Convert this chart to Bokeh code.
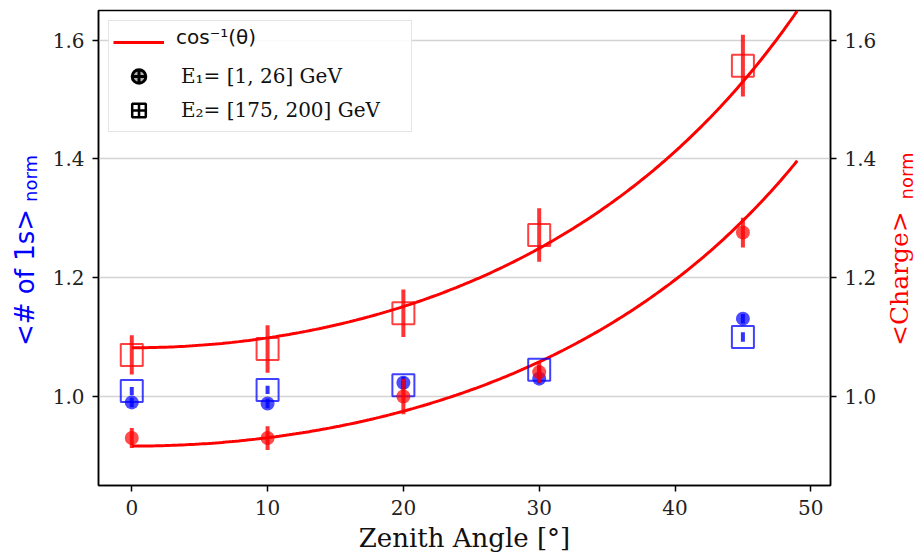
import numpy as np
from bokeh.plotting import figure
from bokeh.layouts import row
from bokeh.models import (Range1d, LinearAxis, FixedTicker, Legend, LegendItem,
                          NumeralTickFormatter, ColumnDataSource)
from bokeh.core.properties import value
from bokeh.embed import file_html
from bokeh.resources import INLINE

# ---- data ----
angles = [0, 10, 20, 30, 45]
ones_e1 = [0.990, 0.988, 1.023, 1.030, 1.131]
ones_e1_err = [0.008, 0.008, 0.010, 0.008, 0.008]
ones_e2 = [1.009, 1.011, 1.019, 1.045, 1.100]
ones_e2_err = [0.007, 0.007, 0.007, 0.007, 0.008]
charge_e1 = [0.930, 0.930, 1.000, 1.041, 1.276]
charge_e1_err = [0.017, 0.020, 0.030, 0.018, 0.025]
charge_e2 = [1.070, 1.080, 1.140, 1.272, 1.557]
charge_e2_err = [0.033, 0.040, 0.040, 0.045, 0.052]
fit_norm_e1 = 0.9164
fit_norm_e2 = 1.082
fit_max_angle = 49
x_ticks = [0, 10, 20, 30, 40, 50]
y_ticks = [1.0, 1.2, 1.4, 1.6]

left_title = "<# of 1s>"
right_title = "<Charge>"
title_sub = "norm"
fit_label = "cos⁻¹(θ)"
e1_label = "E₁= [1, 26] GeV"
e2_label = "E₂= [175, 200] GeV"

RED = "#ff0000"
BLUE = "#0000ff"
H = 557
FRAME_TOP = 10
FRAME_BOTTOM = 485

p = figure(width=836, height=H,
           x_range=Range1d(-2.45, 51.45), y_range=Range1d(0.85, 1.65),
           output_backend="svg", toolbar_location=None,
           min_border_left=52, min_border_right=52,
           min_border_top=FRAME_TOP, min_border_bottom=H - FRAME_BOTTOM)
p.background_fill_color = "white"
p.border_fill_color = "white"
p.outline_line_color = "black"
p.outline_line_width = 1.5
p.xgrid.visible = False
p.ygrid.grid_line_color = "#d3d3d3"
p.ygrid.grid_line_width = 1.3
p.ygrid.ticker = FixedTicker(ticks=y_ticks)

right_axis = LinearAxis()
p.add_layout(right_axis, "right")

for ax in [p.xaxis[0], p.yaxis[0], right_axis]:
    ax.axis_line_width = 1.5
    ax.axis_line_color = "black"
    ax.major_tick_line_width = 1.5
    ax.major_tick_out = 6
    ax.major_tick_in = 0
    ax.minor_tick_out = 0
    ax.minor_tick_in = 0
    ax.major_label_text_font = "DejaVu Serif"
    ax.major_label_text_font_size = "20px"
    ax.major_label_text_color = "#222222"
    ax.major_label_standoff = 8

p.xaxis.ticker = FixedTicker(ticks=x_ticks)
p.yaxis[0].ticker = FixedTicker(ticks=y_ticks)
right_axis.ticker = FixedTicker(ticks=y_ticks)
p.yaxis[0].formatter = NumeralTickFormatter(format="0.0")
right_axis.formatter = NumeralTickFormatter(format="0.0")
p.xaxis.formatter = NumeralTickFormatter(format="0")

p.xaxis.axis_label = "Zenith Angle [°]"
p.xaxis.axis_label_text_font = "DejaVu Serif"
p.xaxis.axis_label_text_font_size = "26px"
p.xaxis.axis_label_text_font_style = "normal"
p.xaxis.axis_label_text_color = "#111111"
p.xaxis.axis_label_standoff = 5

# ---- fit curves ----
theta = np.linspace(0, fit_max_angle, 200)
fit_hi = fit_norm_e2 / np.cos(np.radians(theta))
fit_lo = fit_norm_e1 / np.cos(np.radians(theta))
fit_r = p.line(theta, fit_hi, line_color=RED, line_width=3)
p.line(theta, fit_lo, line_color=RED, line_width=3)

# ---- error bars and markers ----
def err_src(xs, ys, es):
    return ColumnDataSource(dict(
        x=xs, y=ys,
        lo=[y - e for y, e in zip(ys, es)],
        hi=[y + e for y, e in zip(ys, es)]))

s_ones1 = err_src(angles, ones_e1, ones_e1_err)
s_ones2 = err_src(angles, ones_e2, ones_e2_err)
s_ch1 = err_src(angles, charge_e1, charge_e1_err)
s_ch2 = err_src(angles, charge_e2, charge_e2_err)

# blue: number of 1s
p.scatter("x", "y", source=s_ones2, marker="square", size=22,
          fill_color=None, line_color=BLUE, line_width=2, line_alpha=0.75)
p.segment("x", "lo", "x", "hi", source=s_ones2, line_color=BLUE,
          line_width=4, line_alpha=0.8)
p.segment("x", "lo", "x", "hi", source=s_ones1, line_color=BLUE,
          line_width=4, line_alpha=0.8)
p.scatter("x", "y", source=s_ones1, marker="circle", size=14,
          fill_color=BLUE, fill_alpha=0.7, line_color=None)

# red: charge
p.scatter("x", "y", source=s_ch2, marker="square", size=22,
          fill_color=None, line_color=RED, line_width=2, line_alpha=0.75)
p.segment("x", "lo", "x", "hi", source=s_ch2, line_color=RED,
          line_width=4, line_alpha=0.8)
p.segment("x", "lo", "x", "hi", source=s_ch1, line_color=RED,
          line_width=4, line_alpha=0.8)
p.scatter("x", "y", source=s_ch1, marker="circle", size=14,
          fill_color=RED, fill_alpha=0.7, line_color=None)

# ---- legend (legend-only renderers hold a single NaN point) ----
leg_e1 = p.scatter(x=[np.nan], y=[np.nan], marker="circle_cross",
                   fill_color="black", fill_alpha=0.3, line_color="black",
                   line_width=3)
leg_e2 = p.scatter(x=[np.nan], y=[np.nan], marker="square_cross",
                   fill_color=None, line_color="black", line_width=2.5)
leg_blank = p.line(x=[np.nan], y=[np.nan], line_alpha=0)


def styled_legend(items, font, boxed):
    lg = Legend(items=items, location="top_left")
    lg.margin = 10
    lg.padding = 4
    lg.spacing = 0
    lg.glyph_width = 51
    lg.glyph_height = 34
    lg.label_height = 24
    lg.label_width = 226
    lg.label_standoff = 17
    lg.label_text_font = font
    lg.label_text_font_size = "20px"
    lg.label_text_color = "#111111"
    if boxed:
        lg.border_line_color = "#cccccc"
        lg.border_line_width = 1.3
        lg.background_fill_alpha = 0.85
    else:
        lg.border_line_color = None
        lg.background_fill_alpha = 0
    return lg

# serif legend with the box, line glyph and the two energy bins
p.add_layout(styled_legend([
    LegendItem(label=" ", renderers=[fit_r]),
    LegendItem(label=e1_label, renderers=[leg_e1]),
    LegendItem(label=e2_label, renderers=[leg_e2]),
], "DejaVu Serif", True))
# sans-serif overlay for the fit label (first row only)
p.add_layout(styled_legend([
    LegendItem(label=fit_label, renderers=[leg_blank]),
], "DejaVu Sans", False))

# ---- side strips holding the rotated y-axis titles with subscripts ----
# (in a row the strips' frames line up with the main frame, so their
#  y range is expressed in page pixels between the frame edges)
def side_strip(width):
    f = figure(width=width, height=H, x_range=Range1d(0, width),
               y_range=Range1d(FRAME_BOTTOM, FRAME_TOP), output_backend="svg",
               toolbar_location=None, x_axis_location=None,
               y_axis_location=None, min_border=0)
    f.grid.visible = False
    f.outline_line_color = None
    f.background_fill_color = "white"
    f.border_fill_color = "white"
    return f

lf = side_strip(46)
lf.text(x=[24], y=[345.5], text=[left_title], angle=np.pi / 2,
        text_align="left", text_baseline="middle",
        text_font=value("DejaVu Sans"), text_font_size="26px",
        text_color=BLUE)
lf.text(x=[29.5], y=[201.5], text=[title_sub], angle=np.pi / 2,
        text_align="left", text_baseline="middle",
        text_font=value("DejaVu Sans"), text_font_size="18px",
        text_color=BLUE)

rf = side_strip(35)
rf.text(x=[16.5], y=[345.5], text=[right_title], angle=np.pi / 2,
        text_align="left", text_baseline="middle",
        text_font=value("DejaVu Serif"), text_font_size="25px",
        text_color=RED)
rf.text(x=[24], y=[199], text=[title_sub], angle=np.pi / 2,
        text_align="left", text_baseline="middle",
        text_font=value("DejaVu Sans"), text_font_size="18px",
        text_color=RED)

layout = row(lf, p, rf, spacing=0)
open("out.html", "w").write(file_html(layout, INLINE))
